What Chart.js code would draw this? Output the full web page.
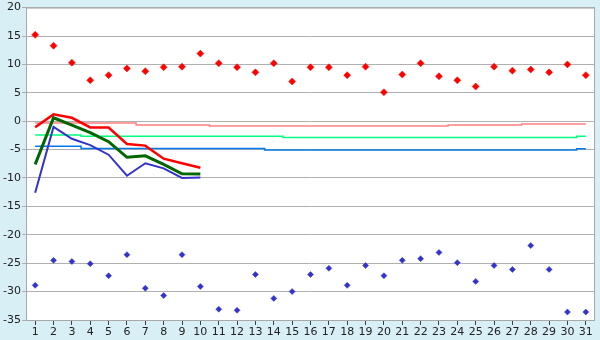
<!DOCTYPE html>
<html>
<head>
<meta charset="utf-8">
<script src="https://cdn.jsdelivr.net/npm/chart.js@4/dist/chart.umd.min.js"></script>
<style>
  html, body { margin: 0; padding: 0; background: #d9eff6; }
  #wrap { width: 600px; height: 340px; }
</style>
</head>
<body>
<div id="wrap"><canvas id="chart"></canvas></div>
<script>
const days = Array.from({ length: 31 }, (_, i) => String(i + 1));

// daily highs / lows (markers)
const highs = [15.2, 13.3, 10.3, 7.2, 8.1, 9.3, 8.8, 9.5, 9.6, 11.9,
    10.2, 9.5, 8.6, 10.2, 7.0, 9.5, 9.5, 8.1, 9.6, 5.1,
    8.2, 10.2, 7.9, 7.2, 6.1, 9.6, 8.9, 9.1, 8.6, 10.0, 8.1];
const lows = [-28.9, -24.5, -24.7, -25.1, -27.2, -23.5, -29.4, -30.7, -23.5, -29.1,
    -33.1, -33.3, -27.0, -31.2, -30.0, -27.0, -25.9, -28.9, -25.4, -27.2,
    -24.5, -24.2, -23.1, -24.9, -28.2, -25.4, -26.1, -21.9, -26.1, -33.6, -33.6];

// first ten days lines
const maxLine = [-1.05, 1.2, 0.6, -1.1, -1.1, -4.0, -4.3, -6.6, -7.4, -8.2];
const meanLine = [-7.6, 0.6, -0.7, -2.0, -3.6, -6.35, -6.1, -7.6, -9.25, -9.3];
const minLine = [-12.6, -1.0, -3.1, -4.2, -5.9, -9.6, -7.4, -8.3, -10.0, -9.9];

// long-term normals
const normMax = [-0.33, -0.33, -0.33, -0.33, -0.33, -0.33, -0.65, -0.65, -0.65, -0.65,
    -0.85, -0.85, -0.85, -0.85, -0.85, -0.85, -0.85, -0.85, -0.85, -0.85,
    -0.85, -0.85, -0.85, -0.65, -0.65, -0.65, -0.65, -0.5, -0.5, -0.5, -0.5];
const normMean = [-2.45, -2.45, -2.45, -2.65, -2.65, -2.65, -2.65, -2.65, -2.65, -2.65,
    -2.65, -2.65, -2.65, -2.65, -2.85, -2.85, -2.85, -2.85, -2.85, -2.85,
    -2.85, -2.85, -2.85, -2.85, -2.85, -2.85, -2.85, -2.85, -2.85, -2.85, -2.65];
const normMin = [-4.4, -4.4, -4.4, -4.8, -4.8, -4.8, -4.8, -4.8, -4.8, -4.8,
    -4.8, -4.8, -4.8, -5.05, -5.05, -5.05, -5.05, -5.05, -5.05, -5.05,
    -5.05, -5.05, -5.05, -5.05, -5.05, -5.05, -5.05, -5.05, -5.05, -5.05, -4.85];

const yMin = -35, yMax = 20, yStep = 5;

const plotBox = {
    id: 'plotBox',
    beforeDraw(chart) {
        const { ctx, chartArea: a } = chart;
        ctx.save();
        ctx.fillStyle = '#ffffff';
        ctx.fillRect(a.left, a.top, a.right - a.left, a.bottom - a.top);
        ctx.restore();
    },
    afterDraw(chart) {
        const { ctx, chartArea: a } = chart;
        ctx.save();
        ctx.strokeStyle = '#a8a8a8';
        ctx.lineWidth = 1;
        ctx.strokeRect(a.left + 0.5, a.top + 0.5, a.right - a.left - 1, a.bottom - a.top);
        ctx.restore();
    }
};

function refLine(data, color) {
    return {
        data, borderColor: color, borderWidth: 1.5, pointRadius: 0,
        stepped: 'middle', fill: false, order: 5
    };
}

new Chart(document.getElementById('chart'), {
    type: 'line',
    data: {
        labels: days,
        datasets: [
            refLine(normMax, '#ff8080'),
            refLine(normMean, '#00ff80'),
            refLine(normMin, '#0078ee'),
            { data: maxLine, borderColor: '#ff0000', borderWidth: 2.5, pointRadius: 0, tension: 0, order: 3 },
            { data: meanLine, borderColor: '#006600', borderWidth: 3, pointRadius: 0, tension: 0, order: 2 },
            { data: minLine, borderColor: '#3333cc', borderWidth: 2, pointRadius: 0, tension: 0, order: 1 },
            { data: highs, showLine: false, pointStyle: 'rectRot', pointRadius: 3.5,
              backgroundColor: '#ff0000', borderColor: '#ff0000', borderWidth: 0.5, order: 0 },
            { data: lows, showLine: false, pointStyle: 'rectRot', pointRadius: 3,
              backgroundColor: '#3333cc', borderColor: '#3333cc', borderWidth: 0.5, order: 0 }
        ]
    },
    options: {
        responsive: true,
        maintainAspectRatio: false,
        animation: false,
        layout: { padding: { top: 5, right: 5, left: 0, bottom: 0 } },
        plugins: { legend: { display: false }, tooltip: { enabled: false } },
        scales: {
            x: {
                offset: true,
                grid: { offset: false, drawOnChartArea: false, drawTicks: true, tickLength: 5, color: '#404040' },
                border: { display: false },
                ticks: { color: '#222', font: { family: 'DejaVu Sans', size: 11 }, padding: 1, maxRotation: 0, autoSkip: false },
                afterFit(s) { s.height = 20; }
            },
            y: {
                min: yMin,
                max: yMax,
                grid: { color: '#b0b0b0', tickLength: 4, drawTicks: true },
                border: { display: false },
                ticks: { stepSize: yStep, color: '#222', font: { family: 'DejaVu Sans', size: 11 }, padding: 1 },
                afterFit(s) { s.width = 26; }
            }
        }
    },
    plugins: [plotBox]
});
</script>
</body>
</html>
